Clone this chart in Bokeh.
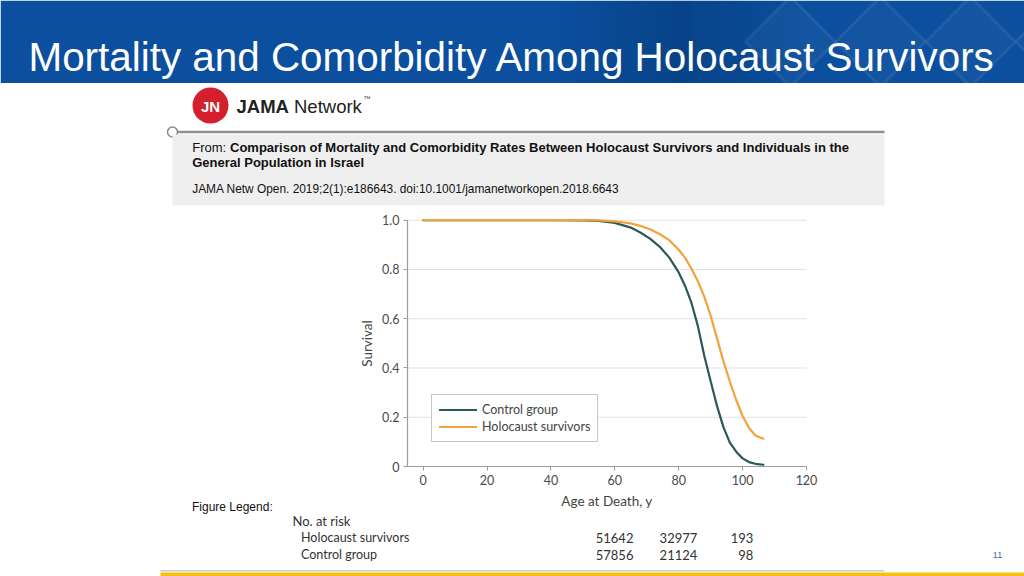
from bokeh.plotting import figure
from bokeh.models import Range1d, FixedTicker, LinearAxis
from bokeh.core.properties import value
from bokeh.embed import file_html
from bokeh.resources import INLINE

# ---------------- data ----------------
ages = [0, 40, 50, 55, 60, 65, 68, 71, 74, 77, 80, 82, 84, 86, 88, 90, 92, 94, 96, 98, 100, 102, 104, 106.5]
control_survival = [1.0, 1.0, 0.999, 0.997, 0.989, 0.970, 0.950, 0.925, 0.893, 0.849, 0.788, 0.733,
                    0.664, 0.570, 0.450, 0.346, 0.245, 0.160, 0.097, 0.060, 0.033, 0.018, 0.011, 0.007]
holocaust_survival = [1.0, 1.0, 1.0, 0.999, 0.995, 0.987, 0.977, 0.963, 0.944, 0.919, 0.880, 0.847,
                      0.803, 0.752, 0.690, 0.612, 0.519, 0.427, 0.345, 0.270, 0.205, 0.156, 0.126, 0.113]
series_names = ["Control group", "Holocaust survivors"]
x_ticks = [0, 20, 40, 60, 80, 100, 120]
y_ticks = [0, 0.2, 0.4, 0.6, 0.8, 1.0]
risk_ages = [60, 80, 100]
risk_holocaust = [51642, 32977, 193]
risk_control = [57856, 21124, 98]

slide_title = "Mortality and Comorbidity Among Holocaust Survivors"
source_from = "From:"
source_title_1 = "Comparison of Mortality and Comorbidity Rates Between Holocaust Survivors and Individuals in the"
source_title_2 = "General Population in Israel"
citation = "JAMA Netw Open. 2019;2(1):e186643. doi:10.1001/jamanetworkopen.2018.6643"

# ---------------- layout: the canvas is one page-pixel frame ----------------
W, H = 1024, 576
CL, CR = 407.0, 806.0        # age axis from X_START to X_END (page px)
X_START, X_END = -4.9, 120.0
CB, CT = 466.0, 219.7        # survival 0 -> CB, 1 -> CT (page px)

kx = (CR - CL) / (X_END - X_START)
age_lo = X_START - CL / kx
age_hi = X_END + (W - CR) / kx
ky = (CB - CT) / 1.0
surv_lo = -(H - CB) / ky
surv_hi = CB / ky

p = figure(width=W, height=H, x_range=Range1d(0, W), y_range=Range1d(H, 0),
           x_axis_type=None, y_axis_type=None,
           output_backend="svg", toolbar_location=None)
p.min_border_left = p.min_border_right = p.min_border_top = p.min_border_bottom = 0
p.outline_line_color = None
p.background_fill_color = "white"
p.border_fill_color = "white"
p.extra_x_ranges = {"age": Range1d(age_lo, age_hi)}
p.extra_y_ranges = {"surv": Range1d(surv_lo, surv_hi)}

CHART_FONT = "Lato"
ARIAL = "Liberation Sans"


def rect(x0, y0, x1, y1, color, alpha=1.0):
    p.quad(left=[x0], right=[x1], top=[y0], bottom=[y1], fill_color=color, fill_alpha=alpha,
           line_color=None)


def txt(X, Y, s, size, color="#111111", font=ARIAL, bold=False, align="left", baseline="middle"):
    p.text(x=[X], y=[Y], text=[s], text_font=value(font), text_font_size=value(f"{size}px"),
           text_font_style="bold" if bold else "normal", text_color=color,
           text_align=align, text_baseline=baseline)


# ---------------- slide header ----------------
BAR = 82.5
rect(0, 0, W, BAR, "#0b4f9e")
# darker band toward the right (smooth steps)
for i in range(24):
    x0 = 560 + i * 10
    peak = 1 - abs((x0 + 5) - 680) / 120.0
    if peak > 0:
        rect(x0, 0, x0 + 10, BAR, "#00214a", 0.26 * peak)
# faint lighter diamonds on the right
for cx in [790, 880, 970, 1060]:
    p.patch(x=[cx - 45, cx, cx + 45, cx], y=[BAR / 2, -4, BAR / 2, BAR + 4],
            fill_color="#ffffff", fill_alpha=0.04, line_color="#ffffff", line_alpha=0.07,
            line_width=3)
txt(28, 56.7, slide_title, 40.4, color="white", baseline="alphabetic")

# ---------------- JAMA header ----------------
p.scatter(x=[210], y=[105], size=36, marker="circle", fill_color="#d4202c", line_color=None)
txt(210, 105.5, "JN", 15, color="white", bold=True, align="center")
txt(236, 105.5, "JAMA", 18.5, color="#222222", bold=True)
txt(293.5, 105.5, "Network", 18.5, color="#222222")
txt(363, 98, "™", 7, color="#444444")

rect(172, 130.3, 884, 132.8, "#8f8f8f")
p.scatter(x=[172], y=[131.5], size=10, marker="circle", fill_color="white",
          line_color="#8a8a8a", line_width=1.5)
rect(172, 134, 884, 205, "#efefef")
txt(191.7, 147, source_from, 13)
txt(229.5, 147, source_title_1, 13, bold=True)
txt(191.7, 161.5, source_title_2, 13, bold=True)
txt(191.7, 188, citation, 11.9)

# ---------------- chart ----------------
grid_vals = [t for t in y_ticks if t > 0]
p.segment(x0=[X_START] * len(grid_vals), x1=[X_END] * len(grid_vals), y0=grid_vals, y1=grid_vals,
          x_range_name="age", y_range_name="surv", line_color="#e2e2e2", line_width=1)

p.line(ages, control_survival, x_range_name="age", y_range_name="surv",
       line_color="#2c5859", line_width=2.2, line_cap="round", legend_label=series_names[0])
p.line(ages, holocaust_survival, x_range_name="age", y_range_name="surv",
       line_color="#f2a33a", line_width=2.2, line_cap="round", legend_label=series_names[1])

xax = LinearAxis(x_range_name="age", y_range_name="surv", fixed_location=0,
                 bounds=(X_START, X_END), ticker=FixedTicker(ticks=x_ticks),
                 axis_label="Age at Death, y")
yax = LinearAxis(x_range_name="age", y_range_name="surv", fixed_location=X_START,
                 bounds=(0, 1), ticker=FixedTicker(ticks=y_ticks), axis_label="Survival")
yax.major_label_overrides = {0: "0", 1: "1.0"}
for ax in (xax, yax):
    ax.axis_line_color = "#9d9d9d"
    ax.axis_line_width = 1.2
    ax.major_tick_line_color = "#9d9d9d"
    ax.major_tick_out = 4
    ax.major_tick_in = 0
    ax.minor_tick_line_color = None
    ax.major_label_text_font = CHART_FONT
    ax.major_label_text_font_size = "12.5px"
    ax.major_label_text_color = "#4a4a4a"
    ax.major_label_standoff = 4
    ax.axis_label_text_font = CHART_FONT
    ax.axis_label_text_font_size = "13.5px"
    ax.axis_label_text_font_style = "normal"
    ax.axis_label_text_color = "#444444"
xax.axis_label_standoff = 5
yax.axis_label_standoff = 4
p.add_layout(xax, "below")
p.add_layout(yax, "left")

lg = p.legend[0]
lg.location = (431, H - 442.3)
lg.border_line_color = "#8c8c8c"
lg.border_line_width = 1
lg.background_fill_color = "white"
lg.background_fill_alpha = 1
lg.padding = 7
lg.spacing = 2
lg.margin = 0
lg.label_height = 15
lg.glyph_height = 15
lg.glyph_width = 38
lg.label_standoff = 5
lg.label_text_font = CHART_FONT
lg.label_text_font_size = "12.5px"
lg.label_text_color = "#444444"

# ---------------- figure legend / number at risk ----------------
txt(191.5, 506, "Figure Legend:", 12)
txt(292, 520, "No. at risk", 13, color="#333333", font=CHART_FONT)
txt(300.5, 537, series_names[1], 12.5, color="#333333", font=CHART_FONT)
txt(300.5, 554, series_names[0], 12.5, color="#333333", font=CHART_FONT)
col_offsets = [18.6, 18.6, 10.8]
for row_y, values in [(537, risk_holocaust), (554, risk_control)]:
    p.text(x=risk_ages, y=[row_y] * len(values), text=[str(v) for v in values],
           x_range_name="age", x_offset=col_offsets, text_align="right", text_baseline="middle",
           text_font=value(CHART_FONT), text_font_size=value("13px"), text_color="#333333")

txt(997, 554, "11", 9, color="#3b6ea8", align="center")

# bottom rules
rect(160, 569.5, 884, 571, "#c9c9c9")
rect(160, 572, W, 576, "#f7bf12")

open("out.html", "w").write(file_html(p, INLINE))
